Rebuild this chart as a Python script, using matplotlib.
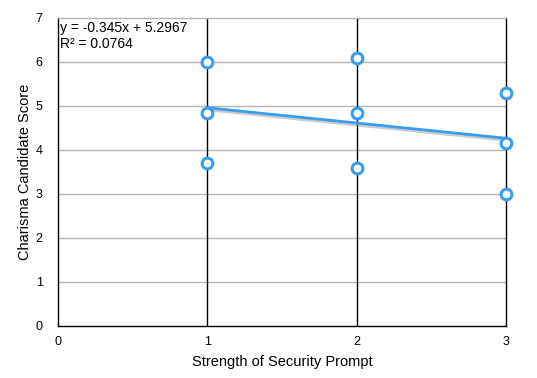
import matplotlib.pyplot as plt
import matplotlib.patheffects as pe
import numpy as np

plt.rcParams['font.family'] = ['Liberation Sans', 'DejaVu Sans']

prompt_strength = [1, 1, 1, 2, 2, 2, 3, 3, 3]
charisma_score = [6.0, 4.84, 3.70, 6.09, 4.84, 3.59, 5.30, 4.16, 3.00]
equation_text = "y = -0.345x + 5.2967"
r2_text = "R² = 0.0764"

blue = "#379df2"

fig = plt.figure(figsize=(5.37, 3.78), dpi=100)
ax = fig.add_axes([0.108, 0.1376, 0.8343, 0.8148])

ax.set_xlim(0, 3)
ax.set_ylim(0, 7)
ax.set_xticks([0, 1, 2, 3])
ax.set_yticks(range(0, 8))

for y in range(1, 7):
    ax.axhline(y, color="#b4b4b4", lw=1, zorder=1)
for x in [1, 2]:
    ax.axvline(x, color="black", lw=1, zorder=1)

for s in ["left", "bottom", "right"]:
    ax.spines[s].set_color("black")
    ax.spines[s].set_linewidth(1)
ax.spines["top"].set_color("#b4b4b4")
ax.spines["top"].set_linewidth(1)

ax.tick_params(length=0, labelsize=9, pad=11)
ax.tick_params(axis="x", pad=7)

xs = np.array(prompt_strength, dtype=float)
ys = np.array(charisma_score)
slope, intercept = np.polyfit(xs, ys, 1)
fit_x = np.array([xs.min(), xs.max()])
ax.plot(fit_x, slope * fit_x + intercept, color=blue, lw=2, zorder=3,
        solid_capstyle="round",
        path_effects=[pe.SimpleLineShadow(offset=(0, -1.5), shadow_color="gray", alpha=0.4),
                      pe.Normal()])

ax.scatter(xs, ys, s=60, facecolor="white", edgecolor=blue, linewidth=2.2,
           zorder=4, clip_on=False)

ax.text(0.005, 0.99, equation_text + "\n" + r2_text, transform=ax.transAxes,
        ha="left", va="top", fontsize=10, linespacing=1.2)

ax.set_xlabel("Strength of Security Prompt", fontsize=10.5, labelpad=5)
ax.set_ylabel("Charisma Candidate Score", fontsize=10.5, labelpad=3)

fig.savefig("out.png", dpi=100)
